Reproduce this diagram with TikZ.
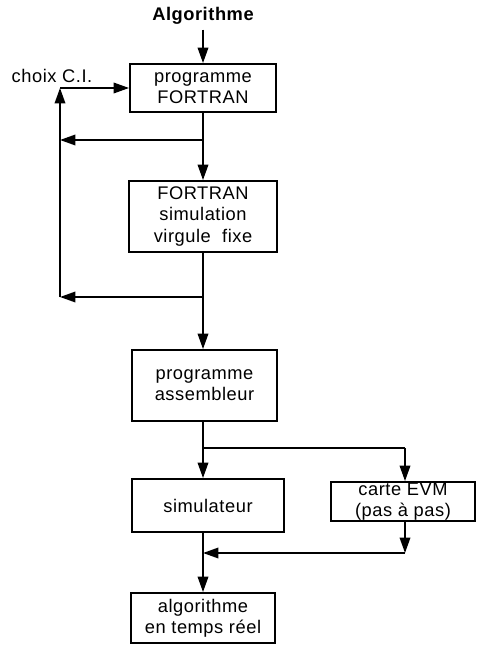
\documentclass[tikz,border=0pt]{standalone}
\usepackage{fontspec}
\setmainfont{Liberation Sans}[LetterSpace=3]
\usetikzlibrary{arrows.meta, positioning, calc}

\begin{document}
\begin{tikzpicture}[
  x=0.025cm, y=-0.025cm,
  box/.style={draw, line width=1.3pt, align=center, inner sep=0pt,
              font=\fontsize{13}{15}\selectfont, minimum width=3.6cm},
  arr/.style={-{Triangle[length=11pt, width=7.5pt]}, line width=1.3pt},
  ln/.style={line width=1.3pt},
  lbl/.style={font=\fontsize{13}{15}\selectfont},
]
\useasboundingbox (0,0) rectangle (476,648);

% FORTRAN STAGE
\node[lbl, font=\fontsize{13}{15}\selectfont\bfseries] (alg) at (203,16) {Algorithme};
\node[box, minimum width=3.65cm, minimum height=1.2cm] (fort) at (203,88) {programme\\FORTRAN};
\node[lbl] (choix) at (52,76) {choix C.I.};
\node[box, minimum width=3.7cm, minimum height=1.775cm] (fsim) at (203,216.5) {FORTRAN\\simulation\\virgule\ \ fixe};

\coordinate (lc)  at (60,88);
\coordinate (br1) at (203,140);
\coordinate (lb1) at (60,140);
\coordinate (br2) at (203,297);
\coordinate (lb2) at (60,297);

\draw[arr] (alg) -- (fort);
\draw[arr] (fort) -- (fsim);
\draw[arr] (br1) -- (lb1);
\draw[arr] (br2) -- (lb2);
\draw[arr] (lb2) -- (lc);
\draw[arr] (lc) -- (fort.west);

% ASSEMBLER STAGE
\node[box, minimum width=3.625cm, minimum height=1.775cm] (asm) at (204.5,385.5) {programme\\assembleur};
\node[box, minimum width=3.8cm, minimum height=1.325cm] (simu) at (208,505.5) {simulateur};
\node[box, minimum width=3.6cm, minimum height=0.975cm] (evm) at (403,501.5) {carte EVM\\(pas à pas)};
\node[box, minimum height=1.25cm] (rt) at (203,618) {algorithme\\en temps réel};

\coordinate (j3)  at (203,448);
\coordinate (j3r) at (405,448);
\coordinate (j4)  at (203,553);
\coordinate (j4r) at (405,553);

\draw[arr] (fsim) -- (fsim.south |- asm.north);
\draw[ln] (j3 |- asm.south) -- (j3);
\draw[arr] (j3) -- (j3 |- simu.north);
\draw[ln] (j3) -- (j3r);
\draw[arr] (j3r) -- (j3r |- evm.north);
\draw[arr] (j3r |- evm.south) -- (j4r);
\draw[arr] (j4r) -- (j4);
\draw[ln] (j4 |- simu.south) -- (j4);
\draw[arr] (j4) -- (rt);

\end{tikzpicture}
\end{document}
